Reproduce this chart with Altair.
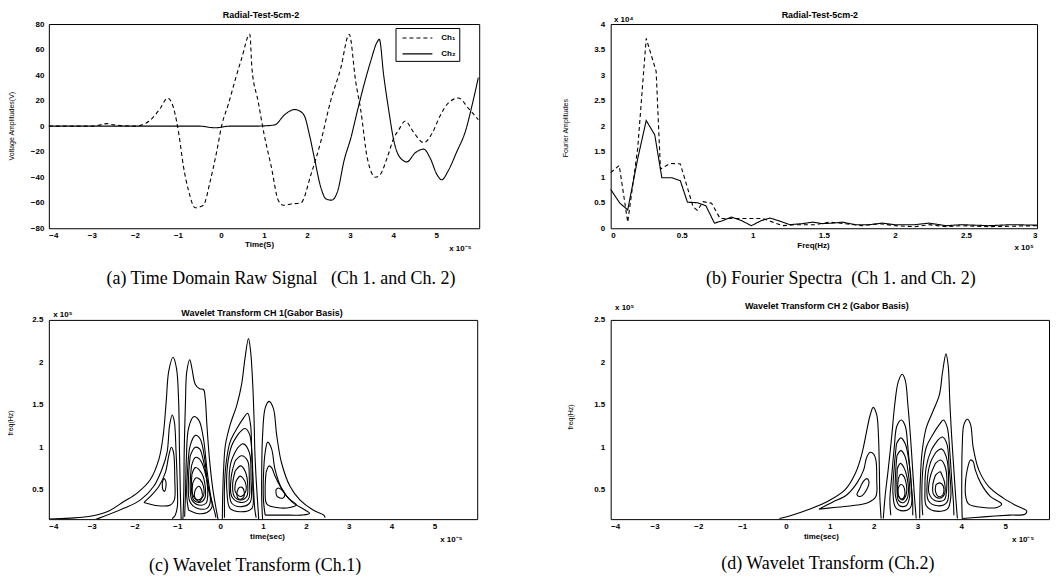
import altair as alt
import pandas as pd

FONT = "Liberation Sans"
SERIF = "Liberation Serif"
NB = "\u00a0"

# ---------------- (a) time-domain raw signals: time in 1e-5 s, voltage in V
a_ch1_time = [-4.0, -3.0, -2.8, -2.65, -2.5, -2.0, -1.83, -1.6, -1.41, -1.24, -1.1, -0.98, -0.87,
              -0.75, -0.6, -0.41, -0.25, -0.1, 0.02, 0.17, 0.32, 0.48, 0.67, 0.72, 0.86, 1.0, 1.17,
              1.33, 1.45, 1.63, 1.86, 2.09, 2.32, 2.55, 2.78, 2.98, 3.13, 3.25, 3.4, 3.59, 3.7,
              3.86, 4.02, 4.13, 4.28, 4.48, 4.71, 4.9, 5.09, 5.28, 5.52, 5.75, 5.98]
a_ch1_volt = [0, 0, 1, 2, 1, 0, 1, 6, 14, 22, 14, -6, -32,
              -51, -64, -62, -43, -20, 1, 17, 35, 53, 72, 45, 20, -6, -32,
              -58, -62, -61, -60, -38, -12, 20, 45, 72, 35, 12, -25, -40, -38,
              -25, -9, -3, 4, -5, -13, -6, 8, 18, 22, 14, 5]

a_ch2_time = [-4.0, -2.0, -0.5, -0.14, 0.2, 0.8, 1.05, 1.25, 1.48, 1.71, 1.82, 1.94, 2.05, 2.17,
              2.32, 2.44, 2.57, 2.71, 2.86, 3.02, 3.17, 3.32, 3.48, 3.63, 3.68, 3.78, 3.9, 4.02,
              4.17, 4.32, 4.51, 4.71, 4.86, 5.02, 5.13, 5.28, 5.48, 5.68, 5.86, 5.98]
a_ch2_volt = [0, 0, 0, -1.3, 0, 0, 0.3, 1, 9, 13, 12, 8, -6, -25,
              -48, -57, -58, -51, -27, -9, 12, 32, 51, 66, 68, 40, 12, -12,
              -25, -28, -21, -18, -25, -38, -42, -35, -20, -4, 20, 38]

# ---------------- (b) Fourier spectra: freq in 1e5 Hz, amplitude in 1e4
b_ch1_freq = [0.0, 0.06, 0.12, 0.19, 0.25, 0.32, 0.35, 0.42, 0.49, 0.58, 0.61, 0.65, 0.71, 0.77,
              0.84, 0.98, 1.07, 1.14, 1.21, 1.3, 1.44, 1.54, 1.65, 1.77, 1.89, 2.0, 2.14, 2.24,
              2.36, 2.47, 2.66, 2.82, 3.0]
b_ch1_amp = [1.09, 1.23, 0.12, 1.56, 3.72, 3.07, 1.16, 1.27, 1.26, 0.42, 0.35, 0.52, 0.49, 0.19,
             0.19, 0.19, 0.19, 0.12, 0.05, 0.07, 0.07, 0.12, 0.09, 0.05, 0.09, 0.05, 0.03, 0.07,
             0.03, 0.05, 0.03, 0.04, 0.05]
b_ch2_freq = [0.0, 0.065, 0.12, 0.19, 0.25, 0.31, 0.36, 0.43, 0.49, 0.54, 0.61, 0.67, 0.73, 0.78,
              0.85, 0.92, 0.99, 1.06, 1.12, 1.19, 1.26, 1.35, 1.42, 1.49, 1.56, 1.63, 1.72, 1.82,
              1.91, 2.0, 2.14, 2.24, 2.36, 2.47, 2.66, 2.82, 3.0]
b_ch2_amp = [0.76, 0.49, 0.36, 1.36, 2.11, 1.83, 0.99, 0.99, 0.93, 0.51, 0.5, 0.44, 0.1, 0.14,
             0.22, 0.15, 0.05, 0.15, 0.2, 0.14, 0.07, 0.09, 0.12, 0.09, 0.1, 0.12, 0.07, 0.07,
             0.1, 0.07, 0.07, 0.1, 0.05, 0.07, 0.05, 0.07, 0.06]

# ---------------- (c) wavelet transform Ch.1: contour loops (time 1e-5 s, freq 1e5 Hz)
c_lobe_a = [
    [(-4.0, 0.155), (-3.5, 0.165), (-3.0, 0.19), (-2.6, 0.25), (-2.25, 0.36), (-1.94, 0.46),
     (-1.63, 0.62), (-1.43, 0.86), (-1.33, 1.14), (-1.26, 1.54), (-1.2, 1.9), (-1.1, 2.06),
     (-1.02, 1.93), (-0.97, 1.54), (-0.95, 0.94), (-0.93, 0.46), (-0.91, 0.15)],
    [(-2.9, 0.15), (-2.25, 0.28), (-1.86, 0.38), (-1.55, 0.54), (-1.36, 0.74), (-1.24, 0.94),
     (-1.18, 1.26), (-1.12, 1.38), (-1.07, 1.3), (-1.03, 0.94), (-1.0, 0.54), (-1.0, 0.3),
     (-1.05, 0.2), (-1.12, 0.16)],
    [(-1.78, 0.35), (-1.63, 0.42), (-1.43, 0.54), (-1.28, 0.7), (-1.2, 0.9), (-1.14, 1.0),
     (-1.09, 0.94), (-1.06, 0.62), (-1.07, 0.38), (-1.16, 0.32), (-1.45, 0.31), (-1.78, 0.35)],
    [(-1.34, 0.5), (-1.35, 0.58), (-1.31, 0.63), (-1.27, 0.6), (-1.27, 0.52), (-1.3, 0.48),
     (-1.34, 0.5)],
]
c_lobe_b = [
    [(-0.87, 0.15), (-0.85, 0.46), (-0.84, 0.94), (-0.81, 1.54), (-0.78, 1.89), (-0.71, 2.03),
     (-0.66, 1.93), (-0.58, 1.74), (-0.48, 1.69), (-0.39, 1.68), (-0.35, 1.58), (-0.31, 1.26),
     (-0.25, 0.86), (-0.17, 0.5), (-0.09, 0.26), (-0.05, 0.15)],
    [(-0.83, 0.18), (-0.81, 0.46), (-0.79, 0.86), (-0.74, 1.22), (-0.62, 1.36), (-0.5, 1.32),
     (-0.39, 1.1), (-0.31, 0.74), (-0.22, 0.42), (-0.12, 0.22), (-0.1, 0.17)],
    [(-0.74, 0.26), (-0.78, 0.42), (-0.76, 0.74), (-0.7, 1.02), (-0.58, 1.14), (-0.47, 1.1),
     (-0.36, 0.86), (-0.29, 0.54), (-0.19, 0.3), (-0.31, 0.23), (-0.54, 0.22), (-0.74, 0.26)],
    [(-0.7, 0.9), (-0.58, 1.0), (-0.48, 0.98), (-0.4, 0.86), (-0.31, 0.62), (-0.23, 0.36),
     (-0.31, 0.28), (-0.54, 0.28), (-0.71, 0.36), (-0.74, 0.62), (-0.7, 0.9)],
    [(-0.67, 0.78), (-0.58, 0.88), (-0.48, 0.86), (-0.36, 0.72), (-0.29, 0.5), (-0.33, 0.34),
     (-0.5, 0.32), (-0.66, 0.38), (-0.7, 0.54), (-0.67, 0.78)],
    [(-0.66, 0.68), (-0.58, 0.76), (-0.43, 0.69), (-0.35, 0.54), (-0.36, 0.4), (-0.48, 0.35),
     (-0.62, 0.38), (-0.67, 0.5), (-0.66, 0.68)],
    [(-0.64, 0.58), (-0.56, 0.64), (-0.47, 0.62), (-0.39, 0.54), (-0.4, 0.42), (-0.53, 0.38),
     (-0.64, 0.44), (-0.64, 0.58)],
    [(-0.58, 0.5), (-0.5, 0.54), (-0.43, 0.49), (-0.43, 0.4), (-0.5, 0.36), (-0.6, 0.42),
     (-0.58, 0.5)],
]
c_lobe_c = [
    [(0.05, 0.15), (0.06, 0.46), (0.08, 0.74), (0.12, 1.02), (0.23, 1.26), (0.39, 1.5),
     (0.5, 1.74), (0.58, 2.05), (0.66, 2.28), (0.71, 2.13), (0.76, 1.74), (0.79, 1.34),
     (0.81, 0.94), (0.84, 0.62), (0.87, 0.38), (0.9, 0.15)],
    [(0.1, 0.17), (0.1, 0.26), (0.1, 0.54), (0.14, 0.82), (0.23, 1.06), (0.39, 1.22),
     (0.54, 1.34), (0.64, 1.4), (0.71, 1.26), (0.74, 0.86), (0.78, 0.5), (0.81, 0.26),
     (0.84, 0.17)],
    [(0.43, 1.16), (0.58, 1.22), (0.68, 1.16), (0.74, 0.94), (0.76, 0.54), (0.74, 0.28),
     (0.47, 0.24), (0.23, 0.28), (0.16, 0.46), (0.17, 0.78), (0.27, 1.02), (0.43, 1.16)],
    [(0.39, 0.98), (0.54, 1.04), (0.68, 0.94), (0.72, 0.62), (0.7, 0.35), (0.5, 0.3),
     (0.27, 0.34), (0.21, 0.54), (0.25, 0.82), (0.39, 0.98)],
    [(0.35, 0.84), (0.5, 0.9), (0.64, 0.84), (0.68, 0.62), (0.66, 0.39), (0.47, 0.35),
     (0.27, 0.42), (0.26, 0.66), (0.35, 0.84)],
    [(0.35, 0.72), (0.48, 0.78), (0.58, 0.72), (0.64, 0.58), (0.62, 0.42), (0.48, 0.38),
     (0.33, 0.42), (0.29, 0.56), (0.35, 0.72)],
    [(0.37, 0.6), (0.47, 0.66), (0.59, 0.58), (0.58, 0.46), (0.47, 0.42), (0.35, 0.48),
     (0.37, 0.6)],
    [(0.43, 0.52), (0.5, 0.53), (0.56, 0.48), (0.53, 0.4), (0.43, 0.39), (0.39, 0.46),
     (0.43, 0.52)],
]
c_lobe_d = [
    [(0.99, 0.15), (0.97, 0.38), (0.97, 0.74), (0.99, 1.14), (1.05, 1.46), (1.14, 1.54),
     (1.24, 1.46), (1.32, 1.14), (1.43, 0.82), (1.63, 0.54), (1.86, 0.38), (2.17, 0.26),
     (2.42, 0.2), (2.45, 0.17)],
    [(1.05, 0.2), (1.01, 0.38), (1.01, 0.66), (1.05, 0.94), (1.11, 1.06), (1.2, 0.98),
     (1.28, 0.74), (1.43, 0.52), (1.67, 0.36), (1.98, 0.26), (2.09, 0.22), (1.9, 0.2),
     (1.63, 0.2), (1.3, 0.2), (1.05, 0.2)],
    [(1.07, 0.7), (1.14, 0.78), (1.2, 0.76), (1.28, 0.66), (1.4, 0.54), (1.59, 0.4),
     (1.78, 0.32), (1.63, 0.29), (1.32, 0.29), (1.09, 0.33), (1.05, 0.5), (1.07, 0.7)],
    [(1.3, 0.5), (1.36, 0.52), (1.43, 0.5), (1.51, 0.44), (1.46, 0.4), (1.33, 0.42),
     (1.3, 0.5)],
]

# ---------------- (d) wavelet transform Ch.2: contour loops
d_lobe_e = [
    [(-0.15, 0.16), (0.08, 0.19), (0.53, 0.27), (0.98, 0.37), (1.35, 0.5), (1.58, 0.69),
     (1.73, 0.92), (1.84, 1.19), (1.92, 1.38), (1.99, 1.47), (2.07, 1.38), (2.11, 1.12),
     (2.13, 0.73), (2.14, 0.42), (2.17, 0.16)],
    [(0.75, 0.27), (1.05, 0.35), (1.39, 0.44), (1.62, 0.58), (1.77, 0.73), (1.84, 0.88),
     (1.92, 0.94), (2.0, 0.92), (2.05, 0.85), (2.07, 0.62), (2.05, 0.42), (1.88, 0.35),
     (1.5, 0.31), (1.1, 0.29), (0.75, 0.27)],
    [(1.67, 0.5), (1.77, 0.6), (1.84, 0.63), (1.89, 0.6), (1.84, 0.5), (1.69, 0.42),
     (1.62, 0.44), (1.67, 0.5)],
]
d_lobe_f = [
    [(2.22, 0.16), (2.26, 0.42), (2.33, 0.73), (2.41, 1.12), (2.48, 1.5), (2.56, 1.77),
     (2.65, 1.86), (2.72, 1.79), (2.78, 1.5), (2.84, 1.12), (2.89, 0.73), (2.93, 0.42),
     (2.97, 0.16)],
    [(2.39, 0.2), (2.37, 0.38), (2.41, 0.65), (2.47, 1.0), (2.53, 1.25), (2.63, 1.32),
     (2.72, 1.25), (2.78, 1.0), (2.84, 0.65), (2.89, 0.35), (2.89, 0.2)],
    [(2.52, 1.04), (2.62, 1.11), (2.72, 1.04), (2.8, 0.85), (2.86, 0.54), (2.84, 0.29),
     (2.67, 0.25), (2.5, 0.29), (2.44, 0.46), (2.47, 0.77), (2.52, 1.04)],
    [(2.53, 0.9), (2.62, 0.96), (2.71, 0.9), (2.78, 0.73), (2.82, 0.42), (2.74, 0.31),
     (2.59, 0.31), (2.5, 0.42), (2.5, 0.69), (2.53, 0.9)],
    [(2.54, 0.75), (2.61, 0.81), (2.68, 0.77), (2.76, 0.65), (2.78, 0.42), (2.69, 0.35),
     (2.57, 0.37), (2.53, 0.54), (2.54, 0.75)],
    [(2.56, 0.62), (2.61, 0.68), (2.67, 0.67), (2.73, 0.6), (2.74, 0.44), (2.65, 0.38),
     (2.56, 0.44), (2.56, 0.62)],
    [(2.56, 0.52), (2.62, 0.56), (2.68, 0.54), (2.71, 0.44), (2.65, 0.39), (2.57, 0.42),
     (2.56, 0.52)],
]
d_lobe_g = [
    [(3.05, 0.16), (3.06, 0.54), (3.1, 0.92), (3.2, 1.23), (3.35, 1.42), (3.5, 1.62),
     (3.57, 1.88), (3.65, 2.1), (3.7, 1.96), (3.74, 1.5), (3.78, 1.12), (3.83, 0.73),
     (3.87, 0.42), (3.91, 0.16)],
    [(3.12, 0.2), (3.1, 0.38), (3.12, 0.73), (3.2, 1.0), (3.35, 1.15), (3.5, 1.27),
     (3.59, 1.32), (3.68, 1.23), (3.74, 0.92), (3.78, 0.62), (3.82, 0.35), (3.83, 0.2)],
    [(3.46, 1.08), (3.57, 1.12), (3.67, 1.04), (3.72, 0.77), (3.76, 0.42), (3.68, 0.27),
     (3.38, 0.25), (3.2, 0.31), (3.17, 0.5), (3.2, 0.77), (3.31, 0.96), (3.46, 1.08)],
    [(3.42, 0.94), (3.55, 0.98), (3.66, 0.88), (3.71, 0.58), (3.67, 0.35), (3.46, 0.31),
     (3.25, 0.37), (3.22, 0.58), (3.29, 0.81), (3.42, 0.94)],
    [(3.41, 0.81), (3.53, 0.85), (3.63, 0.77), (3.67, 0.56), (3.61, 0.38), (3.41, 0.37),
     (3.26, 0.46), (3.29, 0.65), (3.41, 0.81)],
    [(3.41, 0.67), (3.52, 0.71), (3.56, 0.67), (3.62, 0.58), (3.61, 0.44), (3.5, 0.4),
     (3.37, 0.44), (3.35, 0.56), (3.41, 0.67)],
    [(3.42, 0.56), (3.51, 0.58), (3.59, 0.54), (3.58, 0.44), (3.48, 0.42), (3.41, 0.48),
     (3.42, 0.56)],
]
d_lobe_h = [
    [(4.02, 0.16), (4.01, 0.38), (4.01, 0.65), (4.02, 1.0), (4.06, 1.27), (4.14, 1.33),
     (4.21, 1.27), (4.27, 1.0), (4.4, 0.73), (4.62, 0.54), (4.96, 0.4), (5.26, 0.31),
     (5.49, 0.25), (5.45, 0.21), (5.11, 0.2), (4.51, 0.18), (4.02, 0.16)],
    [(4.15, 0.77), (4.21, 0.85), (4.27, 0.83), (4.32, 0.73), (4.44, 0.58), (4.66, 0.42),
     (4.92, 0.33), (4.81, 0.29), (4.51, 0.29), (4.17, 0.33), (4.1, 0.42), (4.1, 0.62),
     (4.15, 0.77)],
]

series_names = ["Ch\u2081", "Ch\u2082"]
time_ticks = [-4, -3, -2, -1, 0, 1, 2, 3, 4, 5]
volt_ticks = [-80, -60, -40, -20, 0, 20, 40, 60, 80]
freq_ticks = [0, 0.5, 1, 1.5, 2, 2.5, 3]
amp_ticks = [0, 0.5, 1, 1.5, 2, 2.5, 3, 3.5, 4]
wt_freq_ticks = [0.5, 1, 1.5, 2, 2.5]


def loops_frame(*lobes):
    rows = []
    k = 0
    for lobe in lobes:
        for loop in lobe:
            for i, (x, y) in enumerate(loop):
                rows.append({"loop": k, "i": i, "t": x, "f": y})
            k += 1
    return pd.DataFrame(rows)


def note(txt, x, y, size=8, font=FONT, weight="bold", align="center", baseline="middle"):
    return alt.Chart(pd.DataFrame({"txt": [txt]})).mark_text(
        font=font, fontSize=size, fontWeight=weight, align=align, baseline=baseline, color="black"
    ).encode(x=alt.value(x), y=alt.value(y), text="txt:N")


def title_note(txt, x, y):
    return note(txt, x, y, size=9)


def caption_note(txt, x, y):
    return note(txt, x, y, size=18, font=SERIF, weight="normal")


def xaxis(values, title, tx, ty, fmt):
    return alt.Axis(values=values, format=fmt, title=title, titleX=tx, titleY=ty,
                    titleAlign="center", titleBaseline="middle", labelPadding=3)


def yaxis(values, title, tx, ty, fmt, pad=5):
    return alt.Axis(values=values, format=fmt, title=title, titleX=tx, titleY=ty,
                    titleAlign="center", titleBaseline="middle", titleFontSize=7,
                    titleFontWeight="normal", labelPadding=pad)


def dash_legend(lx, ly):
    # 30px-long line symbols (path spans -0.5..4.5 of a 12px symbol), compact 17px rows
    return alt.Legend(title=None, orient="none", legendX=lx, legendY=ly, direction="vertical",
                      strokeColor="black", fillColor="white", padding=3,
                      symbolType="M-0.5,0L4.5,0", symbolSize=144, symbolStrokeWidth=1.1,
                      symbolStrokeColor="black", labelFont=FONT, labelFontSize=8,
                      labelFontWeight="bold", labelOffset=29, rowPadding=5, labelColor="black")


dash_scale = alt.Scale(domain=series_names, range=[[4, 3], [1, 0]])

# ---------------- panel (a)
a_df = pd.concat([
    pd.DataFrame({"t": a_ch1_time, "v": a_ch1_volt, "ch": series_names[0]}),
    pd.DataFrame({"t": a_ch2_time, "v": a_ch2_volt, "ch": series_names[1]}),
])
a_lines = alt.Chart(a_df).mark_line(color="black", strokeWidth=1.1, interpolate="monotone").encode(
    x=alt.X("t:Q", scale=alt.Scale(domain=[-4, 6], nice=False, zero=False),
            axis=xaxis(time_ticks, "Time(S)", 211, 16, "d")),
    y=alt.Y("v:Q", scale=alt.Scale(domain=[-80, 80], nice=False),
            axis=yaxis(volt_ticks, "Voltage Amplitudes(V)", -37, 102, "d")),
    strokeDash=alt.StrokeDash("ch:N", scale=dash_scale, legend=dash_legend(348, 4)),
)
panel_a = alt.layer(
    a_lines,
    title_note("Radial-Test-5cm-2", 213, -9),
    note("x 10\u207b\u2075", 413, 226),
    caption_note(f"(a) Time Domain Raw Signal{NB}{NB}{NB}(Ch 1. and Ch. 2)", 233, 256),
).properties(width=432, height=205)

# ---------------- panel (b)
b_df = pd.concat([
    pd.DataFrame({"fq": b_ch1_freq, "amp": b_ch1_amp, "ch": series_names[0]}),
    pd.DataFrame({"fq": b_ch2_freq, "amp": b_ch2_amp, "ch": series_names[1]}),
])
b_lines = alt.Chart(b_df).mark_line(color="black", strokeWidth=1.1).encode(
    x=alt.X("fq:Q", scale=alt.Scale(domain=[0, 3], nice=False, zero=False),
            axis=xaxis(freq_ticks, "Freq(Hz)", 203, 17, "~g")),
    y=alt.Y("amp:Q", scale=alt.Scale(domain=[0, 4], nice=False),
            axis=yaxis(amp_ticks, "Fourier Amplitudes", -45, 104, "~g", pad=6)),
    strokeDash=alt.StrokeDash("ch:N", scale=dash_scale, legend=dash_legend(339, 6)),
)
panel_b = alt.layer(
    b_lines,
    title_note("Radial-Test-5cm-2", 210, -9),
    note("x 10\u2074", 13, -4),
    note("x 10\u2075", 415, 225),
    caption_note(f"(b) Fourier Spectra{NB}{NB}(Ch 1. and Ch. 2)", 231, 256),
).properties(width=428, height=205)


# ---------------- panels (c) and (d)
def wavelet_panel(df, title, title_x, title_y, caption, cap_x, cap_y, ylab_x, ylab_y,
                  xlab_x, mult_y, w):
    lines = alt.Chart(df).mark_line(color="black", strokeWidth=1.1, interpolate="catmull-rom",
                                    clip=True).encode(
        x=alt.X("t:Q", scale=alt.Scale(domain=[-4, 6], nice=False, zero=False),
                axis=xaxis(time_ticks, "time(sec)", xlab_x, 17, "d")),
        y=alt.Y("f:Q", scale=alt.Scale(domain=[0.153, 2.5], nice=False, zero=False),
                axis=yaxis(wt_freq_ticks, "freq(Hz)", ylab_x, ylab_y, "~g", pad=6)),
        detail="loop:N",
        order="i:Q",
    )
    return alt.layer(
        lines,
        title_note(title, title_x, title_y),
        note("x 10\u2075", 14, mult_y),
        note("x 10\u207b\u2075", w - 26, 221),
        caption_note(caption, cap_x, cap_y),
    ).properties(width=w, height=200)


panel_c = wavelet_panel(loops_frame(c_lobe_a, c_lobe_b, c_lobe_c, c_lobe_d),
                        "Wavelet Transform  CH 1(Gabor Basis)", 214, -7,
                        "(c) Wavelet Transform (Ch.1)", 207, 247, -38, 103, 219, -5, 430)
panel_d = wavelet_panel(loops_frame(d_lobe_e, d_lobe_f, d_lobe_g, d_lobe_h),
                        "Wavelet Transform CH 2 (Gabor Basis)", 217, -14,
                        "(d) Wavelet Transform (Ch.2)", 218, 245, -40, 97, 211, -12, 440)

chart = alt.concat(
    panel_a, panel_b, panel_c, panel_d, columns=2,
    spacing={"row": 92, "column": 132}, bounds="flush", align="each",
).properties(
    padding={"left": -2, "top": 1, "right": 0, "bottom": 0}
).configure_view(
    stroke="black", strokeWidth=1
).configure_axis(
    domain=False, ticks=False, grid=False, labelFont=FONT, labelFontSize=8,
    labelFontWeight="bold", labelColor="black", titleFont=FONT, titleFontSize=8,
    titleFontWeight="bold", titleColor="black"
)

chart.save("out.html", embed_options={"renderer": "svg", "actions": False})
